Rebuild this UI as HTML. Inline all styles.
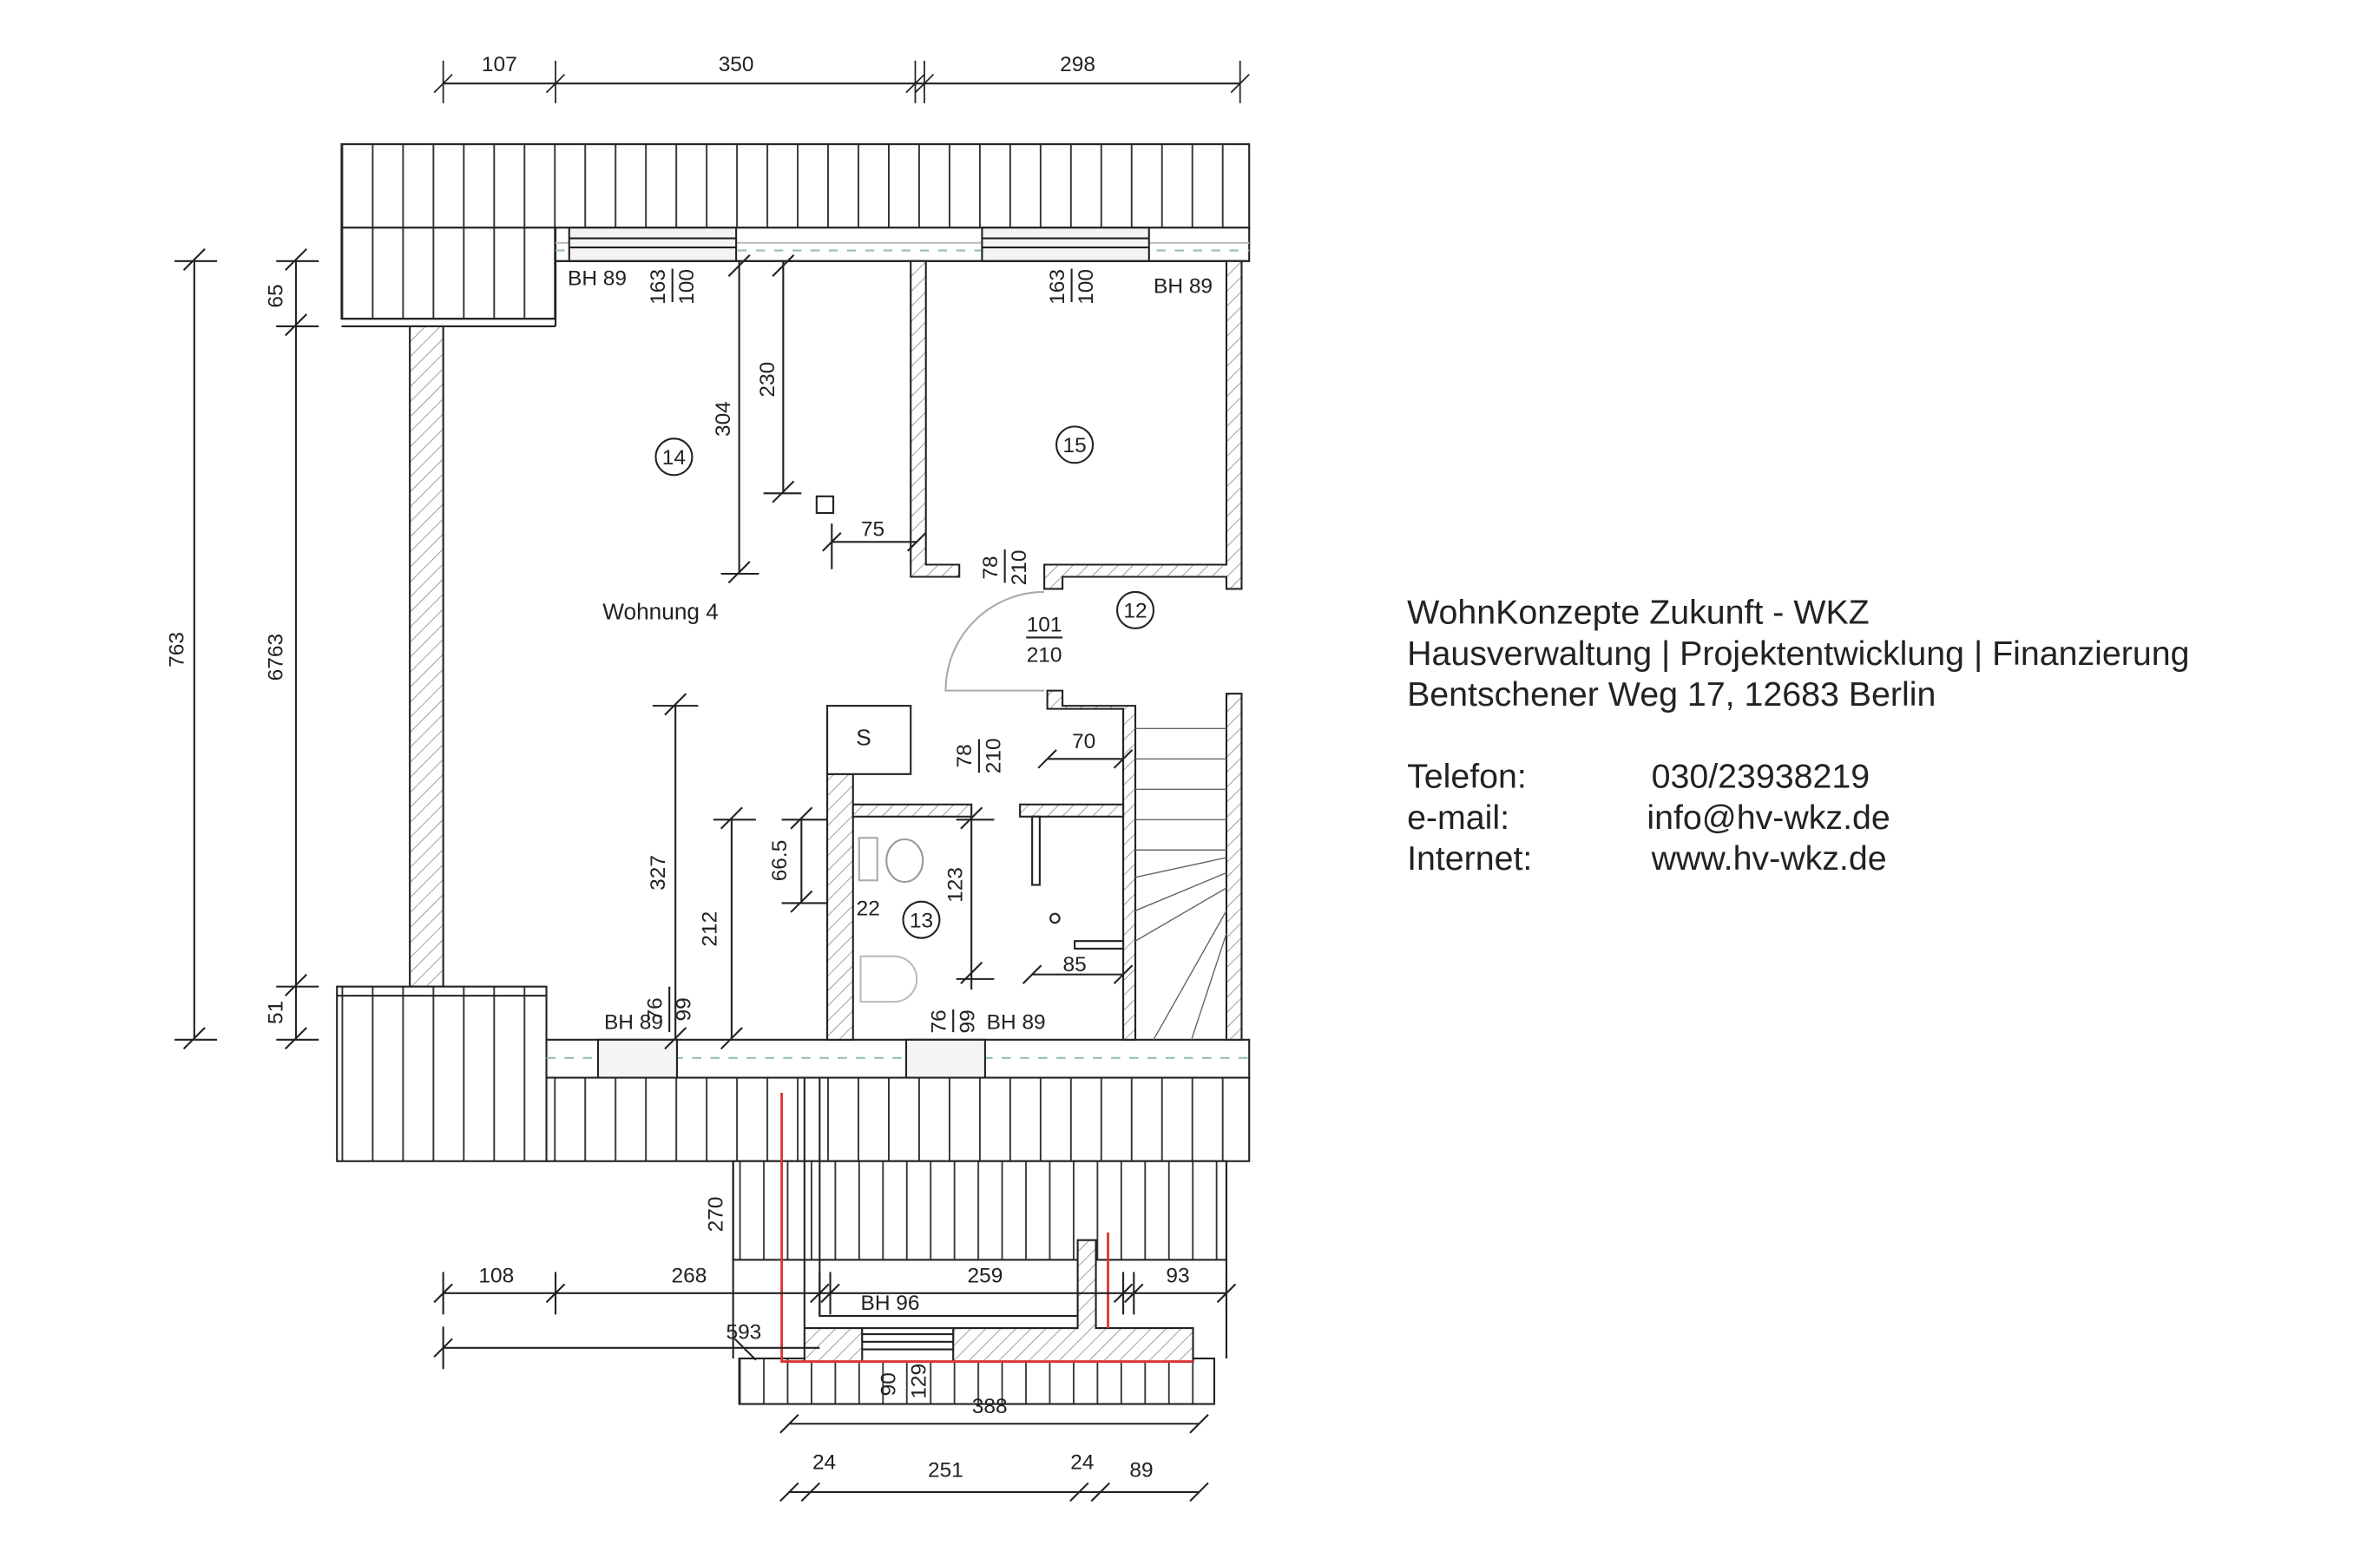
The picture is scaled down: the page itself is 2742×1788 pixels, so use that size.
<!DOCTYPE html>
<html><head><meta charset="utf-8"><style>
html,body{margin:0;padding:0;background:#fff;width:2742px;height:1788px;overflow:hidden}
svg{display:block}
text{font-family:"Liberation Sans",sans-serif;fill:#222}
</style></head><body>
<svg width="2742" height="1788" viewBox="0 0 1568 1022.5" preserveAspectRatio="none" xmlns="http://www.w3.org/2000/svg">
<defs>
<pattern id="st" x="225" y="0" width="20" height="20" patternUnits="userSpaceOnUse"><rect width="20" height="20" fill="#fff"/><line x1="0.5" y1="0" x2="0.5" y2="20" stroke="#333" stroke-width="1.2"/></pattern>
<pattern id="st2" x="487" y="0" width="15.7" height="20" patternUnits="userSpaceOnUse"><rect width="16" height="20" fill="#fff"/><line x1="0.5" y1="0" x2="0.5" y2="20" stroke="#333" stroke-width="1.1"/></pattern>
<pattern id="ht" width="7" height="7" patternUnits="userSpaceOnUse" patternTransform="rotate(45)"><rect width="7" height="7" fill="#fff"/><line x1="0" y1="0" x2="0" y2="7" stroke="#777" stroke-width="0.8"/></pattern>
</defs>
<g stroke="#222" stroke-width="1.2" fill="none">
<line x1="292" y1="55" x2="817" y2="55"/>
<g stroke-width="1"><line x1="292" y1="40" x2="292" y2="68"/><line x1="366" y1="40" x2="366" y2="68"/><line x1="603" y1="40" x2="603" y2="68"/><line x1="609" y1="40" x2="609" y2="68"/><line x1="817" y1="40" x2="817" y2="68"/>
<path d="M286 61l12-12M360 61l12-12M597 61l12-12M603 61l12-12M811 61l12-12"/></g>
<rect x="225" y="95" width="598" height="55" fill="url(#st)"/>
<rect x="225" y="150" width="141" height="60" fill="url(#st)"/>
<line x1="225" y1="210" x2="366" y2="210"/><line x1="225" y1="215" x2="366" y2="215"/><line x1="366" y1="150" x2="366" y2="215"/>
<rect x="366" y="150" width="457" height="22" fill="#fff"/>
<line x1="366" y1="160" x2="823" y2="160" stroke="#bbb"/><line x1="366" y1="165" x2="823" y2="165" stroke="#9bb" stroke-dasharray="6 6"/>
<rect x="375" y="150" width="110" height="22" fill="#f4f4f4"/><line x1="375" y1="157" x2="485" y2="157"/><line x1="375" y1="163" x2="485" y2="163"/>
<rect x="647" y="150" width="110" height="22" fill="#f4f4f4"/><line x1="647" y1="157" x2="757" y2="157"/><line x1="647" y1="163" x2="757" y2="163"/>
<line x1="366" y1="172" x2="823" y2="172"/>
<rect x="270" y="215" width="22" height="435" fill="url(#ht)"/>
<rect x="222" y="650" width="138" height="115" fill="url(#st)"/>
<line x1="222" y1="656" x2="360" y2="656"/>
<rect x="360" y="685" width="463" height="25" fill="#fff"/>
<line x1="360" y1="697" x2="823" y2="697" stroke="#9bb" stroke-dasharray="6 6"/>
<rect x="394" y="685" width="52" height="25" fill="#f4f4f4"/><rect x="597" y="685" width="52" height="25" fill="#f4f4f4"/>
<rect x="360" y="710" width="463" height="55" fill="url(#st)"/>
<rect x="483" y="765" width="325" height="65" fill="url(#st2)"/>
<line x1="483" y1="765" x2="483" y2="895"/><line x1="808" y1="765" x2="808" y2="895"/>
<rect x="487" y="895" width="313" height="30" fill="url(#st2)"/>
<path d="M530 710V875H568V883H628V875H710V817H722V875H786V897H530Z" fill="url(#ht)"/>
<rect x="568" y="875" width="60" height="22" fill="#fff"/><line x1="568" y1="879" x2="628" y2="879"/><line x1="568" y1="884" x2="628" y2="884"/><line x1="568" y1="889" x2="628" y2="889"/>
<path d="M540 710V867H710" />
<path d="M515 720V897H786" stroke="#d33" stroke-width="1.6"/><line x1="730" y1="812" x2="730" y2="875" stroke="#d33" stroke-width="1.6"/>
<path d="M600 172V380H632V372H610V172Z" fill="url(#ht)"/>
<path d="M688 372H808V172H818V388H808V380H700V388H688Z" fill="url(#ht)"/>
<path d="M688 390A65 65 0 0 0 623 455H688" stroke="#aaa"/>
<path d="M690 455H700V465H748V685H740V467H690Z" fill="url(#ht)"/>
<rect x="545" y="510" width="17" height="175" fill="url(#ht)"/>
<rect x="545" y="465" width="55" height="45" fill="#fff"/>
<rect x="562" y="530" width="78" height="8" fill="url(#ht)"/><rect x="672" y="530" width="68" height="8" fill="url(#ht)"/>
<rect x="680" y="538" width="5" height="45" fill="#fff"/>
<rect x="708" y="620" width="32" height="5" fill="#fff"/>
<ellipse cx="596" cy="567" rx="12" ry="14" stroke="#999"/><rect x="566" y="552" width="12" height="28" stroke="#aaa"/>
<path d="M567 630h22a12 12 0 0 1 0 30h-22z" stroke="#bbb"/>
<circle cx="695" cy="605" r="3"/><rect x="538" y="327" width="11" height="11"/>
<rect x="808" y="457" width="10" height="228" fill="url(#ht)"/>
<g stroke-width="0.8" stroke="#666"><line x1="748" y1="480" x2="808" y2="480"/><line x1="748" y1="500" x2="808" y2="500"/><line x1="748" y1="520" x2="808" y2="520"/><line x1="748" y1="540" x2="808" y2="540"/><line x1="748" y1="560" x2="808" y2="560"/><line x1="748" y1="578" x2="808" y2="565"/><line x1="748" y1="600" x2="808" y2="575"/><line x1="748" y1="620" x2="808" y2="585"/><line x1="760" y1="685" x2="808" y2="600"/><line x1="785" y1="685" x2="808" y2="615"/></g>
<line x1="487" y1="172" x2="487" y2="378"/><path d="M480 182l14-14M480 384l14-14M475 378h25"/>
<line x1="516" y1="172" x2="516" y2="325"/><path d="M509 182l14-14M509 331l14-14M503 325h25"/>
<line x1="548" y1="357" x2="604" y2="357"/><path d="M542 363l12-12M598 363l12-12M548 345v30"/>
<line x1="445" y1="465" x2="445" y2="685"/><path d="M438 471l14-14M438 691l14-14M430 465h30"/>
<line x1="482" y1="540" x2="482" y2="685"/><path d="M475 546l14-14M475 691l14-14M470 540h28"/>
<line x1="528" y1="540" x2="528" y2="595"/><path d="M521 546l14-14M521 601l14-14M515 540h30M515 595h30"/>
<line x1="640" y1="540" x2="640" y2="652"/><path d="M633 546l14-14M633 648l14-14M630 540h25M630 645h25"/>
<line x1="690" y1="500" x2="740" y2="500"/><path d="M684 506l12-12M734 506l12-12"/>
<line x1="680" y1="642" x2="740" y2="642"/><path d="M674 648l12-12M734 648l12-12"/>
<line x1="128" y1="172" x2="128" y2="685"/><path d="M115 172h28M115 685h28M121 178l14-14M121 691l14-14"/>
<line x1="195" y1="172" x2="195" y2="685"/><path d="M182 172h28M182 215h28M182 650h28M182 685h28M188 178l14-14M188 221l14-14M188 656l14-14M188 691l14-14"/>
<line x1="292" y1="852" x2="808" y2="852"/><path d="M292 838v28M366 838v28M540 838v28M547 838v28M740 838v28M747 838v28M808 838v28M286 858l12-12M360 858l12-12M534 858l12-12M541 858l12-12M734 858l12-12M741 858l12-12M802 858l12-12"/>
<line x1="292" y1="888" x2="540" y2="888"/><path d="M292 874v28M286 894l12-12M484 882l14 14"/>
<line x1="520" y1="938" x2="790" y2="938"/><path d="M514 944l12-12M784 944l12-12"/>
<line x1="520" y1="983" x2="790" y2="983"/><path d="M514 989l12-12M528 989l12-12M705 989l12-12M719 989l12-12M784 989l12-12"/>
<circle cx="444" cy="301" r="12"/><circle cx="708" cy="293" r="12"/><circle cx="748" cy="402" r="12"/><circle cx="607" cy="606" r="12"/>
<path d="M676 420h24M441 650v30M628 665v15M443 177v22M706 177v22M662 362v22M645 487v22"/>
</g>
<g font-size="14">
<text x="329" y="47" text-anchor="middle">107</text><text x="485" y="47" text-anchor="middle">350</text><text x="710" y="47" text-anchor="middle">298</text>
<text x="374" y="188">BH 89</text><text x="760" y="193">BH 89</text>
<text x="398" y="678">BH 89</text><text x="650" y="678">BH 89</text><text x="567" y="863">BH 96</text>
<text x="397" y="408" font-size="15">Wohnung 4</text>
<text x="444" y="306" text-anchor="middle">14</text><text x="708" y="298" text-anchor="middle">15</text><text x="748" y="407" text-anchor="middle">12</text><text x="607" y="611" text-anchor="middle">13</text>
<text x="569" y="491" text-anchor="middle" font-size="15">S</text>
<text x="688" y="416" text-anchor="middle">101</text><text x="688" y="436" text-anchor="middle">210</text>
<text x="575" y="353" text-anchor="middle">75</text><text x="714" y="493" text-anchor="middle">70</text><text x="708" y="640" text-anchor="middle">85</text><text x="572" y="603" text-anchor="middle">22</text>
<text x="327" y="845" text-anchor="middle">108</text><text x="454" y="845" text-anchor="middle">268</text><text x="649" y="845" text-anchor="middle">259</text><text x="776" y="845" text-anchor="middle">93</text>
<text x="490" y="882" text-anchor="middle">593</text><text x="652" y="931" text-anchor="middle">388</text>
<text x="543" y="968" text-anchor="middle">24</text><text x="623" y="973" text-anchor="middle">251</text><text x="713" y="968" text-anchor="middle">24</text><text x="752" y="973" text-anchor="middle">89</text>
<g text-anchor="middle">
<text transform="translate(121,428) rotate(-90)">763</text>
<text transform="translate(186,195) rotate(-90)">65</text>
<text transform="translate(186,433) rotate(-90)">6763</text>
<text transform="translate(186,667) rotate(-90)">51</text>
<text transform="translate(481,276) rotate(-90)">304</text>
<text transform="translate(510,250) rotate(-90)">230</text>
<text transform="translate(438,575) rotate(-90)">327</text>
<text transform="translate(472,612) rotate(-90)">212</text>
<text transform="translate(518,567) rotate(-90)">66.5</text>
<text transform="translate(634,583) rotate(-90)">123</text>
<text transform="translate(476,800) rotate(-90)">270</text>
<text transform="translate(438,189) rotate(-90)">163</text><text transform="translate(457,189) rotate(-90)">100</text>
<text transform="translate(701,189) rotate(-90)">163</text><text transform="translate(720,189) rotate(-90)">100</text>
<text transform="translate(657,374) rotate(-90)">78</text><text transform="translate(676,374) rotate(-90)">210</text>
<text transform="translate(640,498) rotate(-90)">78</text><text transform="translate(659,498) rotate(-90)">210</text>
<text transform="translate(436,665) rotate(-90)">76</text><text transform="translate(455,665) rotate(-90)">99</text>
<text transform="translate(623,673) rotate(-90)">76</text><text transform="translate(642,673) rotate(-90)">99</text>
<text transform="translate(590,912) rotate(-90)">90</text><text transform="translate(610,910) rotate(-90)">129</text>
</g>
</g>
<g font-size="22.5" style="fill:#111">
<text x="927" y="411">WohnKonzepte Zukunft - WKZ</text>
<text x="927" y="438">Hausverwaltung | Projektentwicklung | Finanzierung</text>
<text x="927" y="465">Bentschener Weg 17, 12683 Berlin</text>
<text x="927" y="519">Telefon:</text><text x="1088" y="519">030/23938219</text>
<text x="927" y="546">e-mail:</text><text x="1085" y="546">info@hv-wkz.de</text>
<text x="927" y="573">Internet:</text><text x="1088" y="573">www.hv-wkz.de</text>
</g>
</svg>
</body></html>
